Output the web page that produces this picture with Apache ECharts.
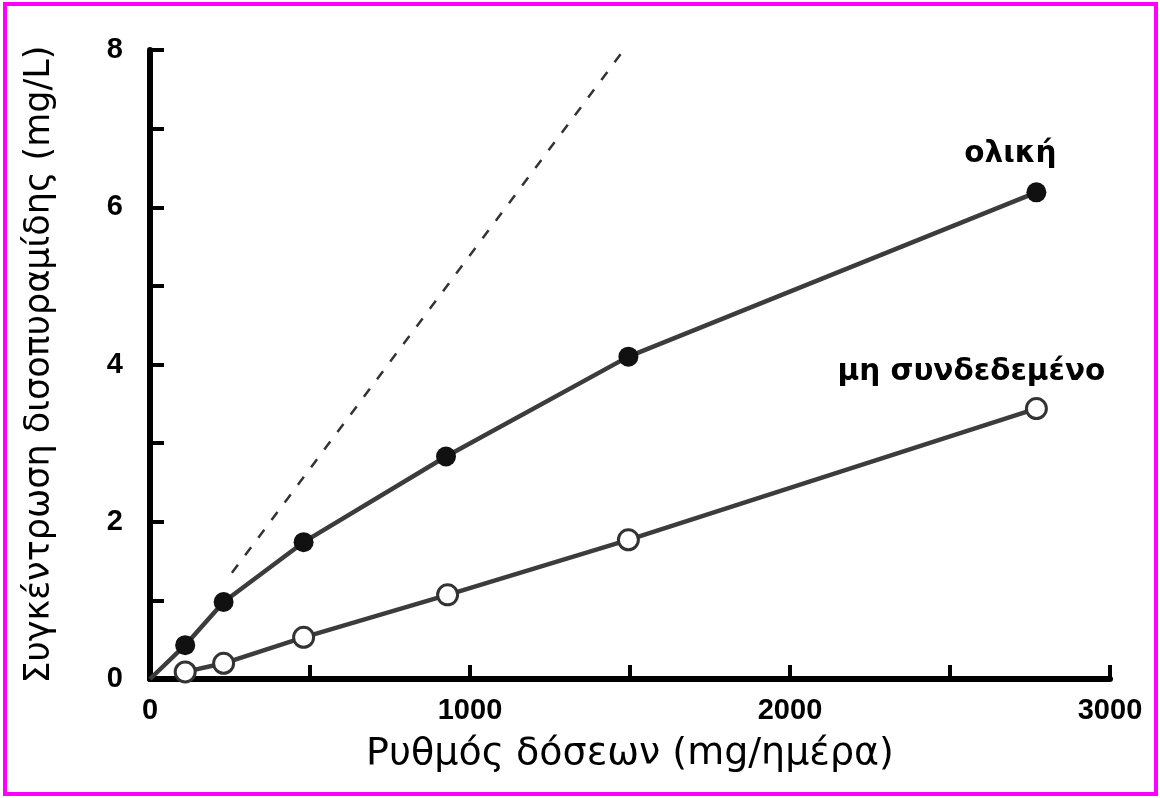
<!DOCTYPE html>
<html>
<head>
<meta charset="utf-8">
<script src="https://cdn.jsdelivr.net/npm/echarts@6/dist/echarts.min.js"></script>
<style>
html,body{margin:0;padding:0;background:#fff;}
#chart{width:1160px;height:798px;}
</style>
</head>
<body>
<div id="chart"></div>
<script>
// Data
const xTitle = 'Ρυθμός δόσεων (mg/ημέρα)';
const yTitle = 'Συγκέντρωση δισοπυραμίδης (mg/L)';
const totalName = 'ολική';
const unboundName = 'μη συνδεδεμένο';
const totalDose = [0, 110, 230, 480, 925, 1495, 2770];
const totalConc = [0, 0.43, 0.98, 1.74, 2.83, 4.10, 6.19];
const unboundDose = [110, 230, 480, 930, 1495, 2770];
const unboundConc = [0.09, 0.20, 0.53, 1.07, 1.77, 3.44];
const linearDose = [256, 1475];
const linearConc = [1.35, 7.97];

const chart = echarts.init(document.getElementById('chart'), null, {renderer: 'canvas'});

const labelFont = {fontFamily: 'DejaVu Sans, sans-serif', fontWeight: 'bold', fontSize: 29.5, color: '#000'};
const totalData = totalDose.map((d, i) => {
  const item = {value: [d, totalConc[i]]};
  if (i === 0) item.symbolSize = 0;
  if (i === totalDose.length - 1) {
    item.label = Object.assign({show: true, formatter: totalName, position: 'top', offset: [-26, -8]}, labelFont);
  }
  return item;
});
const unboundData = unboundDose.map((d, i) => {
  const item = {value: [d, unboundConc[i]]};
  if (i === unboundDose.length - 1) {
    item.label = Object.assign({show: true, formatter: unboundName, position: 'top', offset: [-65, -5]}, labelFont);
  }
  return item;
});
const linearData = linearDose.map((d, i) => [d, linearConc[i]]);

const tickFont = {fontFamily: 'Liberation Sans, Arial, sans-serif', fontWeight: 'bold', fontSize: 29, color: '#000'};
const xTitleFont = {fontFamily: 'DejaVu Sans, sans-serif', fontWeight: 'normal', fontSize: 38, color: '#000'};
const yTitleFont = {fontFamily: 'DejaVu Sans, sans-serif', fontWeight: 'normal', fontSize: 35, color: '#000'};

chart.setOption({
  animation: false,
  backgroundColor: '#fff',
  grid: {left: 150, right: 50, top: 50, bottom: 119, containLabel: false},
  xAxis: {
    type: 'value', min: 0, max: 3000, interval: 500,
    name: xTitle, nameLocation: 'middle', nameGap: 56,
    nameTextStyle: xTitleFont,
    axisLine: {show: true, lineStyle: {color: '#000', width: 6}},
    axisTick: {show: true, inside: true, length: 14, lineStyle: {color: '#000', width: 4}},
    axisLabel: Object.assign({margin: 17, formatter: v => (v % 1000 === 0 ? String(v) : '')}, tickFont),
    splitLine: {show: false}
  },
  yAxis: {
    type: 'value', min: 0, max: 8, interval: 1,
    name: yTitle, nameLocation: 'middle', nameGap: 93,
    nameTextStyle: yTitleFont,
    axisLine: {show: true, lineStyle: {color: '#000', width: 6}},
    axisTick: {show: true, inside: true, length: 14, lineStyle: {color: '#000', width: 4}},
    axisLabel: Object.assign({margin: 27, formatter: v => (v % 2 === 0 ? String(v) : '')}, tickFont),
    splitLine: {show: false}
  },
  series: [
    {
      type: 'line', name: 'linear', data: linearData, symbol: 'none',
      lineStyle: {color: '#333', width: 2.5, type: [10, 12]}, z: 1
    },
    {
      type: 'line', name: totalName, data: totalData, symbol: 'circle', symbolSize: 20,
      lineStyle: {color: '#3c3c3c', width: 4.5},
      itemStyle: {color: '#111', borderWidth: 0}, z: 3
    },
    {
      type: 'line', name: unboundName, data: unboundData, symbol: 'circle', symbolSize: 20,
      lineStyle: {color: '#3c3c3c', width: 4.5},
      itemStyle: {color: '#fff', borderColor: '#333', borderWidth: 3}, z: 3
    }
  ],
  graphic: [
    {type: 'rect', shape: {x: 5, y: 4, width: 1151, height: 790},
     style: {fill: 'none', stroke: '#ff00ff', lineWidth: 4}, silent: true}
  ]
});
</script>
</body>
</html>
